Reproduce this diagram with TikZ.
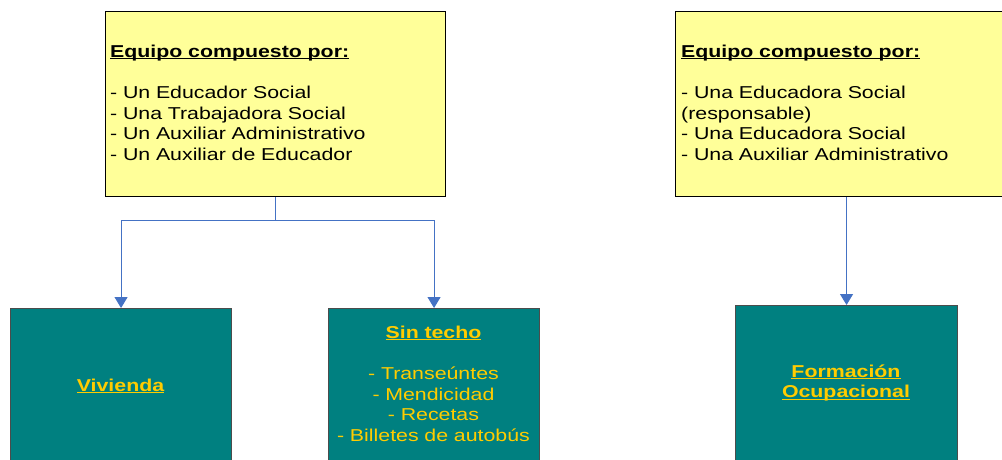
\documentclass[tikz,border=0pt]{standalone}
\usepackage{fontspec}
\setmainfont{Liberation Sans}[FakeStretch=1.24]
\usetikzlibrary{arrows.meta}
\definecolor{paleyellow}{RGB}{255,255,153}
\definecolor{tealfill}{RGB}{0,128,128}
\definecolor{goldtext}{RGB}{255,204,0}
\definecolor{linkblue}{RGB}{68,114,196}
\newsavebox\ulbox
\newcommand\ulined[1]{\leavevmode\sbox\ulbox{#1}\rlap{\usebox\ulbox}\rule[-2.2pt]{\wd\ulbox}{1.4pt}}
\begin{document}
\begin{tikzpicture}[x=1pt,y=-1pt,
  yellowbox/.style={draw=black, line width=1.1pt, fill=paleyellow, anchor=north west, inner sep=0pt},
  tealbox/.style={draw=black!70, line width=1.1pt, fill=tealfill, anchor=north west, inner sep=0pt},
  teamtext/.style={font=\fontsize{17.2}{20.7}\selectfont, align=left, text width=330pt, anchor=base west, inner sep=0pt},
  areatext/.style={font=\fontsize{17.2}{20.7}\selectfont, text=goldtext, align=center, text width=215pt, anchor=base, inner sep=0pt},
  link/.style={draw=linkblue, line width=1pt, -{Triangle[width=13pt,length=11pt]}}
]
\path[use as bounding box] (0,0) rectangle (1002,459);
\clip (0,0) rectangle (1002,459);

% team boxes
\node[yellowbox, minimum width=340pt, minimum height=185pt] (teamA) at (105,11) {};
\node[yellowbox, minimum width=342pt, minimum height=185pt] (teamB) at (675,11) {};

\node[teamtext] (teamAtext) at (110,57) {\ulined{\bfseries Equipo compuesto por:}\\[20.7pt]
- Un Educador Social\\
- Una Trabajadora Social\\
- Un Auxiliar Administrativo\\
- Un Auxiliar de Educador};

\node[teamtext] (teamBtext) at (681,57) {\ulined{\bfseries Equipo compuesto por:}\\[20.7pt]
- Una Educadora Social\\
(responsable)\\
- Una Educadora Social\\
- Una Auxiliar Administrativo};

% area boxes
\node[tealbox, minimum width=221pt, minimum height=165pt] (viv) at (10,308) {};
\node[tealbox, minimum width=211pt, minimum height=165pt] (sin) at (328,308) {};
\node[tealbox, minimum width=222pt, minimum height=165pt] (form) at (735,305) {};

\node[areatext] (vivtext) at (120.5,391) {\ulined{\bfseries Vivienda}};
\node[areatext] (sintext) at (433.5,338) {\ulined{\bfseries Sin techo}\\[20.7pt]
- Transeúntes\\
- Mendicidad\\
- Recetas\\
- Billetes de autobús};
\node[areatext] (formtext) at (846,377) {\ulined{\bfseries Formación}\\
\ulined{\bfseries Ocupacional}};

% connectors
\coordinate (split) at ([yshift=-23pt]teamA.south);
\draw[link] (teamA.south) -- (split) -| (viv.north);
\draw[link] (split) -| (sin.north);
\draw[link] (teamB.south) -- (form.north);
\end{tikzpicture}
\end{document}
